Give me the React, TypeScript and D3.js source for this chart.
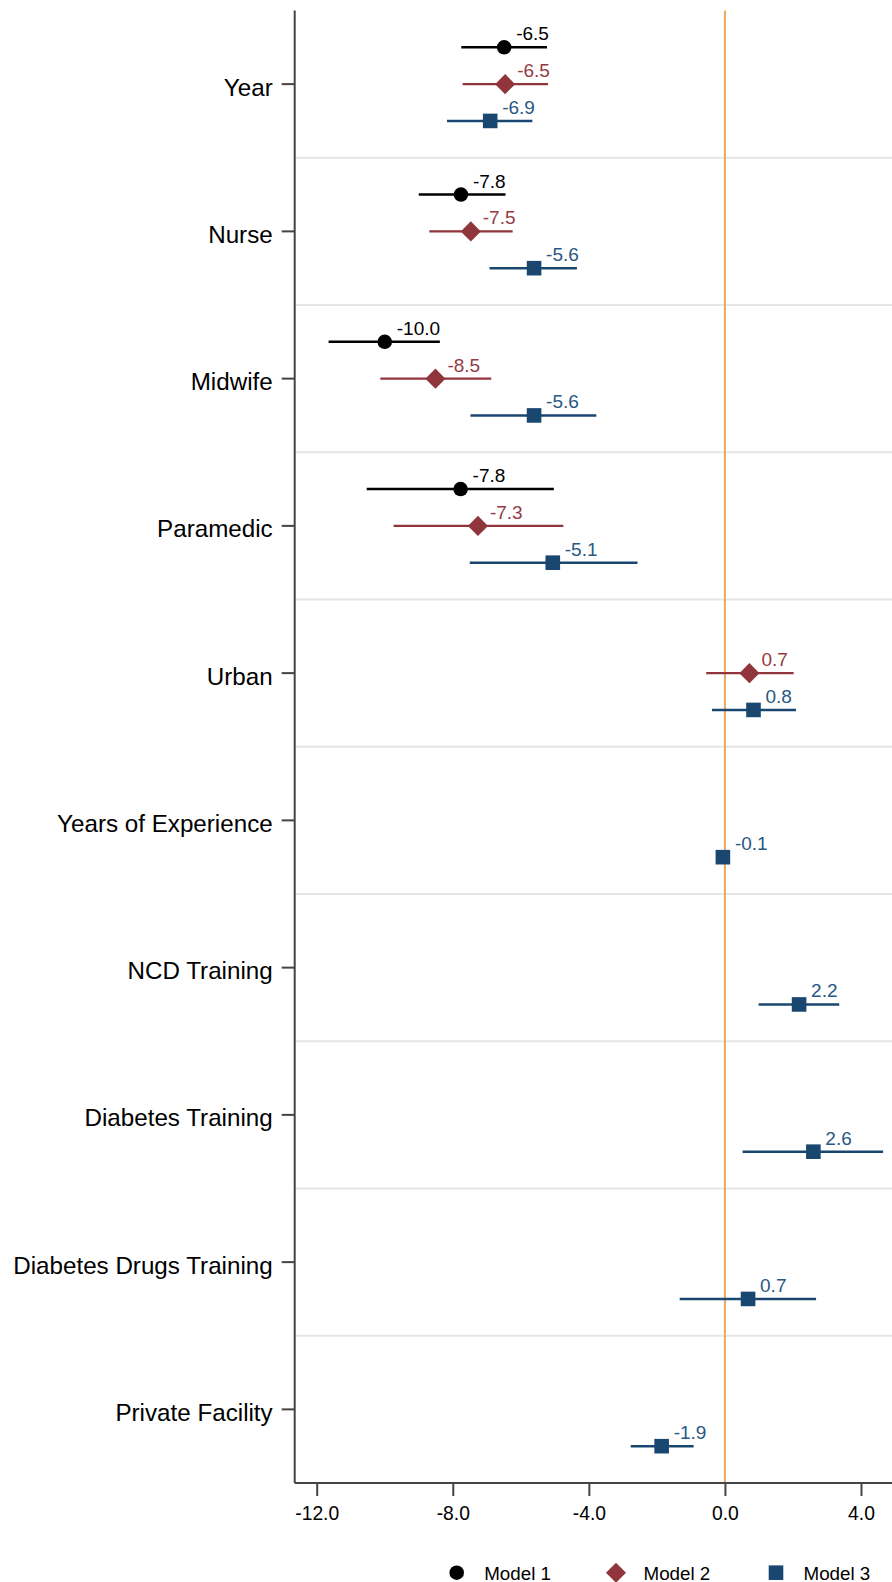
import React, { useEffect, useRef } from 'react';
import * as d3 from 'd3';

const categories = [
  'Year', 'Nurse', 'Midwife', 'Paramedic', 'Urban', 'Years of Experience',
  'NCD Training', 'Diabetes Training', 'Diabetes Drugs Training', 'Private Facility',
];

// point estimates and 95% CI per model (null = not in model)
const m1Est = [-6.49, -7.76, -10.0, -7.77, null, null, null, null, null, null];
const m1Lo = [-7.75, -9.0, -11.65, -10.53, null, null, null, null, null, null];
const m1Hi = [-5.23, -6.45, -8.38, -5.03, null, null, null, null, null, null];

const m2Est = [-6.46, -7.47, -8.51, -7.26, 0.72, null, null, null, null, null];
const m2Lo = [-7.71, -8.69, -10.13, -9.74, -0.55, null, null, null, null, null];
const m2Hi = [-5.2, -6.24, -6.87, -4.75, 2.02, null, null, null, null, null];

const m3Est = [-6.9, -5.61, -5.61, -5.06, 0.84, -0.06, 2.18, 2.6, 0.68, -1.86];
const m3Lo = [-8.17, -6.92, -7.48, -7.5, -0.38, -0.16, 0.99, 0.52, -1.33, -2.77];
const m3Hi = [-5.66, -4.35, -3.78, -2.57, 2.09, 0.04, 3.36, 4.65, 2.68, -0.92];

const xTicks = [-12, -8, -4, 0, 4];
const modelNames = ['Model 1', 'Model 2', 'Model 3'];

const FONT = '"Liberation Sans", Arial, Helvetica, sans-serif';

export default function App() {
  const svgRef = useRef<SVGSVGElement>(null);

  useEffect(() => {
    if (!svgRef.current) return;
    const W = 892, H = 1582;
    const left = 294.7, right = 892, top = 10.5, bottom = 1483;

    const svg = d3.select(svgRef.current).attr('width', W).attr('height', H);
    svg.selectAll('*').remove();

    const x = d3.scaleLinear().domain([-12, 4]).range([316.7, 861]);
    const y = d3.scaleBand<string>().domain(categories).range([top, bottom]).padding(0);
    const bw = y.bandwidth();

    const models = [
      { name: modelNames[0], est: m1Est, lo: m1Lo, hi: m1Hi, color: '#000000', label: '#000000', off: 0.25, shape: 'circle' },
      { name: modelNames[1], est: m2Est, lo: m2Lo, hi: m2Hi, color: '#90353b', label: '#953c43', off: 0.5, shape: 'diamond' },
      { name: modelNames[2], est: m3Est, lo: m3Lo, hi: m3Hi, color: '#1a476f', label: '#2a5783', off: 0.75, shape: 'square' },
    ];

    // row separators
    svg.append('g')
      .selectAll('line')
      .data(categories.slice(1))
      .join('line')
      .attr('x1', left).attr('x2', right)
      .attr('y1', d => y(d)!).attr('y2', d => y(d)!)
      .attr('stroke', '#e6e6e6').attr('stroke-width', 2);

    // zero line
    svg.append('line')
      .attr('x1', x(0)).attr('x2', x(0))
      .attr('y1', top).attr('y2', bottom)
      .attr('stroke', '#f0a55e').attr('stroke-width', 2);

    // axes
    svg.append('g')
      .attr('transform', `translate(0,${bottom})`)
      .call(d3.axisBottom(x).tickValues(xTicks).tickSize(13).tickPadding(10).tickFormat(d => (d as number).toFixed(1)))
      .call(g => g.select('.domain').attr('d', `M${left},0H${right}`).attr('stroke', '#444').attr('stroke-width', 2))
      .call(g => g.selectAll('.tick line').attr('stroke', '#444').attr('stroke-width', 2))
      .call(g => g.selectAll('.tick text').attr('fill', '#000').attr('font-family', FONT).attr('font-size', '19.3px'));

    svg.append('g')
      .attr('transform', `translate(${left},0)`)
      .call(d3.axisLeft(y).tickSize(13).tickPadding(9))
      .call(g => g.select('.domain').attr('d', `M0,${top}V${bottom}`).attr('stroke', '#444').attr('stroke-width', 2))
      .call(g => g.selectAll('.tick line').attr('stroke', '#444').attr('stroke-width', 2))
      .call(g => g.selectAll('.tick text').attr('fill', '#000').attr('font-family', FONT).attr('font-size', '24.2px').attr('dy', '0.47em'));

    const symbolFor = (shape: string) => {
      if (shape === 'circle') return d3.symbol(d3.symbolCircle, Math.PI * 7.3 * 7.3)();
      if (shape === 'diamond') return d3.symbol(d3.symbolSquare, 14.2 * 14.2)();
      return d3.symbol(d3.symbolSquare, 14.6 * 14.6)();
    };

    models.forEach(m => {
      const rows = categories
        .map((c, i) => ({ c, est: m.est[i], lo: m.lo[i], hi: m.hi[i] }))
        .filter(r => r.est !== null) as { c: string; est: number; lo: number; hi: number }[];
      const g = svg.append('g');
      const yy = (c: string) => y(c)! + bw * m.off;

      g.selectAll('line.ci')
        .data(rows)
        .join('line')
        .attr('class', 'ci')
        .attr('x1', d => x(d.lo)).attr('x2', d => x(d.hi))
        .attr('y1', d => yy(d.c)).attr('y2', d => yy(d.c))
        .attr('stroke', m.color).attr('stroke-width', 2.4);

      g.selectAll('path.pt')
        .data(rows)
        .join('path')
        .attr('class', 'pt')
        .attr('d', symbolFor(m.shape))
        .attr('transform', d => `translate(${x(d.est)},${yy(d.c)})${m.shape === 'diamond' ? ' rotate(45)' : ''}`)
        .attr('fill', m.color);

      g.selectAll('text.val')
        .data(rows)
        .join('text')
        .attr('class', 'val')
        .attr('x', d => x(d.est) + 12)
        .attr('y', d => yy(d.c) - 7)
        .attr('fill', m.label)
        .attr('font-family', FONT)
        .attr('font-size', '19px')
        .text(d => d.est.toFixed(1));
    });

    // legend
    const legendY = 1572.7;
    const legendX = [456.7, 616, 776];
    const lg = svg.append('g');
    models.forEach((m, i) => {
      lg.append('path')
        .attr('d', symbolFor(m.shape))
        .attr('transform', `translate(${legendX[i]},${legendY})${m.shape === 'diamond' ? ' rotate(45)' : ''}`)
        .attr('fill', m.color);
      lg.append('text')
        .attr('x', legendX[i] + 27.5)
        .attr('y', legendY + 6.8)
        .attr('font-family', FONT)
        .attr('font-size', '18.8px')
        .attr('fill', '#000')
        .text(m.name);
    });
  }, []);

  return (
    <div style={{ position: 'absolute', left: 0, top: 0, width: 892, height: 1582, background: '#fff' }}>
      <svg ref={svgRef} style={{ display: 'block' }} />
    </div>
  );
}
